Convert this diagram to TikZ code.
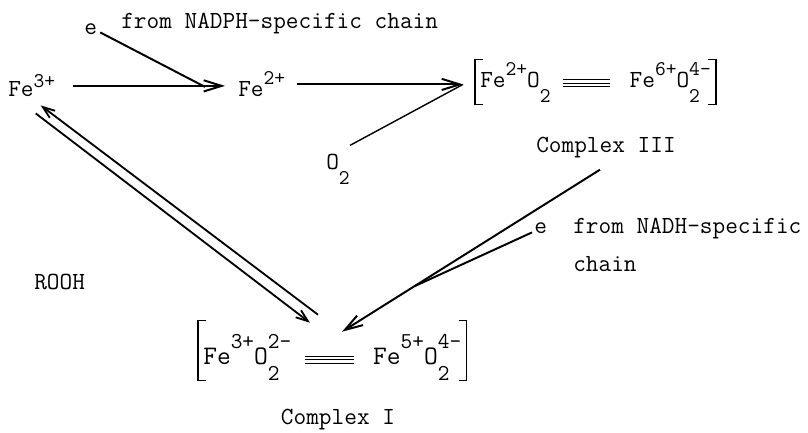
\documentclass[tikz,border=0pt]{standalone}
\usepackage{fontspec}
\usepackage{tikz}
\usetikzlibrary{positioning,arrows.meta,calc}

% typewriter style indices: smaller, shifted by about half a line
\newcommand{\sups}[2][0.5em]{\raisebox{#1}{\scalebox{0.85}{#2}}}
\newcommand{\subs}[1]{\raisebox{-0.58em}{\scalebox{0.85}{#1}}}
\newcommand{\ion}[4][0.5em]{#2\rlap{\subs{#3}}\sups[#1]{#4}}
\newcommand{\tresbarras}[1]{\raisebox{0.05em}{\rlap{\rule{#1}{0.7pt}}}\raisebox{0.18em}{\rlap{\rule{#1}{0.7pt}}}\raisebox{0.31em}{\rule{#1}{0.7pt}}}

\tikzset{
  texto/.style={inner sep=0pt, font=\ttfamily\fontsize{17.5}{20}\selectfont},
  complejo/.style={texto, inner xsep=1.25mm, text height=7mm, text depth=4mm},
  flecha/.style={-{Straight Barb[length=4.5mm,width=2.8mm]}, line width=1.4pt},
  flechac/.style={-{Straight Barb[length=3mm,width=2.2mm]}, line width=1.3pt},
  linea/.style={line width=1.4pt},
  lineaf/.style={line width=1pt},
  corchete/.style={line width=1pt},
}

\begin{document}
\begin{tikzpicture}[x=0.25mm, y=-0.25mm]
  \useasboundingbox[fill=white] (0,0) rectangle (808,433);

  \node[texto, anchor=base west] (fetres) at (8,97) {Fe\sups[0.38em]{3+}};
  \node[texto, anchor=base west] (fedos) at (238,97) {Fe\sups{2+}};
  \node[texto, anchor=base west] (eA) at (84,35) {e};
  \node[texto, anchor=base west] (nadph) at (121,29) {from NADPH-specific chain};
  \node[texto, anchor=base west] (odos) at (326,170) {O\subs{2}};
  \node[complejo, anchor=base west] (ctres) at (475,88)
    {Fe\sups{2+}O\subs{2} \tresbarras{1.9em}\hspace{0.8em}Fe\sups{6+}\ion{O}{2}{4-}};
  \node[texto] (labtres) at (606,148) {Complex III};
  \node[texto, anchor=base west] (eB) at (534,234) {e};
  \node[texto, anchor=base west] (nadh) at (573,234) {from NADH-specific};
  \node[texto, anchor=base west] (cadena) at (573,272) {chain};
  \node[texto, anchor=base west] (rooh) at (34,290) {ROOH};
  \node[complejo, font=\ttfamily\fontsize{19}{22}\selectfont, text height=11mm, text depth=3.8mm,
    anchor=base west] (cuno) at (198,365)
    {Fe\sups[0.62em]{3+}\ion[0.62em]{O}{2}{2-} \tresbarras{1.85em}\hspace{0.7em}Fe\sups[0.62em]{5+}\ion[0.62em]{O}{2}{4-}};
  \node[texto] (labuno) at (338,420) {Complex I};

  % brackets round the complexes
  \foreach \c in {ctres,cuno}{
    \draw[corchete] ([xshift=2mm]\c.north west) -- (\c.north west) -- (\c.south west) -- ([xshift=2mm]\c.south west);
    \draw[corchete] ([xshift=-2mm]\c.north east) -- (\c.north east) -- (\c.south east) -- ([xshift=-2mm]\c.south east);
  }

  % Fe3+ -> Fe2+ with e
  \coordinate (puntaA) at ($(fetres.east -| fedos.west)+(-13,0)$);
  \coordinate (juntaA) at ($(puntaA)+(-20,1)$);
  \draw[flecha, shorten <=4.5mm] (fetres.east) -- (puntaA);
  \draw[linea] ($(eA.south east)+(3,-3)$) -- (juntaA);

  % Fe2+ -> complex III with O2
  \coordinate (puntaB) at ($(fedos.east -| ctres.west)+(-12,0)$);
  \draw[flecha, shorten <=2.8mm] (fedos.east) -- (puntaB);
  \draw[lineaf] ($(odos.north east)+(0,-9)$) -- (puntaB);

  % complex III -> complex I with e
  \coordinate (salida) at ($(labtres.south)+(-6,11)$);
  \coordinate (puntaC) at ($(cuno.north west)+(144,11)$);
  \coordinate (juntaC) at ($(salida)!0.72!(puntaC)$);
  \draw[flecha] (salida) -- (puntaC);
  \draw[linea] ($(eB.south west)+(-2,-2)$) -- (juntaC);

  % Fe3+ <-> complex I
  \draw[flechac] ($(cuno.north west)+(120,-6)$) -- ($(fetres.south)+(9,8)$);
  \draw[flechac] ($(fetres.south)+(4,16)$) -- ($(cuno.north west)+(112,2)$);
\end{tikzpicture}
\end{document}
